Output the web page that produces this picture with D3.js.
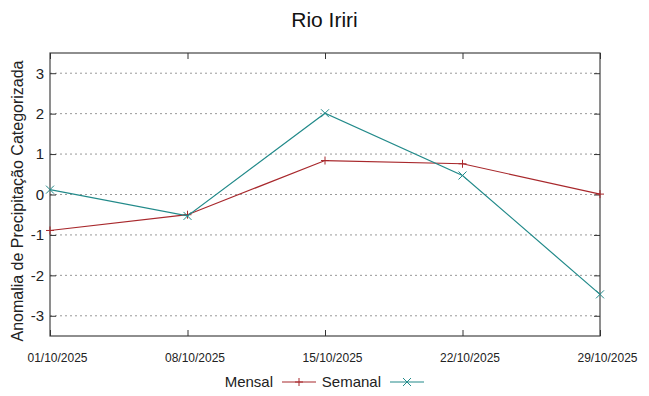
<!DOCTYPE html>
<html lang="pt">
<head>
<meta charset="UTF-8" />
<title>Rio Iriri</title>
<script src="https://d3js.org/d3.v7.min.js"></script>
<style>
  body { margin: 0; background: #fff; font-family: "Liberation Sans", Arial, sans-serif; }
  .grid line { stroke: #999; stroke-dasharray: 2 3; }
</style>
</head>
<body>
<svg id="chart" width="649" height="396"></svg>
<script>
  // data
  const dates = ["01/10/2025", "08/10/2025", "15/10/2025", "22/10/2025", "29/10/2025"];
  const mensal = [-0.89, -0.50, 0.84, 0.76, 0.01];
  const semanal = [0.12, -0.53, 2.01, 0.47, -2.47];
  const yTicks = [-3, -2, -1, 0, 1, 2, 3];

  const W = 649, H = 396;
  const margin = { top: 53, right: 49, bottom: 60, left: 50 };

  const svg = d3.select("#chart");

  const x = d3.scalePoint()
    .domain(dates)
    .range([margin.left, W - margin.right]);

  const y = d3.scaleLinear()
    .domain([-3.5, 3.5])
    .range([H - margin.bottom, margin.top]);

  // dotted grid
  svg.append("g").attr("class", "grid")
    .selectAll("line")
    .data(yTicks)
    .join("line")
    .attr("x1", margin.left)
    .attr("x2", W - margin.right)
    .attr("y1", d => y(d))
    .attr("y2", d => y(d));

  // frame
  svg.append("rect")
    .attr("x", margin.left)
    .attr("y", margin.top)
    .attr("width", W - margin.left - margin.right)
    .attr("height", H - margin.top - margin.bottom)
    .attr("fill", "none")
    .attr("stroke", "#444")
    .attr("stroke-width", 1.2);

  // left axis (ticks pointing in), mirrored on right
  const yAxisL = svg.append("g")
    .attr("transform", `translate(${margin.left},0)`)
    .call(d3.axisLeft(y).tickValues(yTicks).tickSize(-6).tickPadding(6).tickFormat(d => String(d)));
  const yAxisR = svg.append("g")
    .attr("transform", `translate(${W - margin.right},0)`)
    .call(d3.axisRight(y).tickValues(yTicks).tickSize(-6).tickFormat(""));

  // bottom axis, mirrored on top
  const xAxisB = svg.append("g")
    .attr("transform", `translate(0,${H - margin.bottom})`)
    .call(d3.axisBottom(x).tickSize(-6).tickPadding(17));
  const xAxisT = svg.append("g")
    .attr("transform", `translate(0,${margin.top})`)
    .call(d3.axisTop(x).tickSize(-6).tickFormat(""));

  [yAxisL, yAxisR, xAxisB, xAxisT].forEach(g => {
    g.select(".domain").remove();
    g.selectAll(".tick line").attr("stroke", "#333");
  });

  yAxisL.selectAll("text")
    .attr("font-family", "Liberation Sans, Arial, sans-serif")
    .attr("font-size", 15)
    .attr("fill", "#222");

  xAxisB.selectAll("text")
    .attr("dx", 7)
    .attr("font-family", "Liberation Sans Narrow, Liberation Sans, Arial, sans-serif")
    .attr("font-size", 12)
    .attr("fill", "#222");

  // lines
  const series = [
    { name: "Mensal", values: mensal, color: "#a8282c", symbol: "plus" },
    { name: "Semanal", values: semanal, color: "#228a8a", symbol: "cross" }
  ];

  const line = d3.line()
    .x((d, i) => x(dates[i]))
    .y(d => y(d));

  function drawMarker(g, cx, cy, type, color) {
    const s = 4;
    if (type === "plus") {
      g.append("path")
        .attr("d", `M${cx - s},${cy}H${cx + s}M${cx},${cy - s}V${cy + s}`)
        .attr("stroke", color).attr("stroke-width", 1);
    } else {
      g.append("path")
        .attr("d", `M${cx - s},${cy - s}L${cx + s},${cy + s}M${cx - s},${cy + s}L${cx + s},${cy - s}`)
        .attr("stroke", color).attr("stroke-width", 1);
    }
  }

  series.forEach(s => {
    svg.append("path")
      .datum(s.values)
      .attr("fill", "none")
      .attr("stroke", s.color)
      .attr("stroke-width", 1.2)
      .attr("d", line);
    const g = svg.append("g");
    s.values.forEach((v, i) => drawMarker(g, x(dates[i]), y(v), s.symbol, s.color));
  });

  // title
  svg.append("text")
    .attr("x", W / 2)
    .attr("y", 27)
    .attr("text-anchor", "middle")
    .attr("font-size", 21)
    .attr("fill", "#111")
    .text("Rio Iriri");

  // y axis label
  svg.append("text")
    .attr("transform", `translate(23,201) rotate(-90)`)
    .attr("text-anchor", "middle")
    .attr("font-size", 16)
    .attr("fill", "#222")
    .text("Anomalia de Precipitação Categorizada");

  // legend
  const legend = svg.append("g")
    .attr("font-family", "Liberation Sans Narrow, Liberation Sans, Arial, sans-serif")
    .attr("font-size", 15)
    .attr("fill", "#222");
  const legendItems = [
    { textEnd: 273, lineX: 282 },
    { textEnd: 381, lineX: 390 }
  ];
  series.forEach((s, i) => {
    const it = legendItems[i];
    legend.append("text")
      .attr("x", it.textEnd)
      .attr("y", 387)
      .attr("text-anchor", "end")
      .text(s.name);
    legend.append("line")
      .attr("x1", it.lineX).attr("x2", it.lineX + 34)
      .attr("y1", 382).attr("y2", 382)
      .attr("stroke", s.color).attr("stroke-width", 1.2);
    drawMarker(legend, it.lineX + 17, 382, s.symbol, s.color);
  });
</script>
</body>
</html>
